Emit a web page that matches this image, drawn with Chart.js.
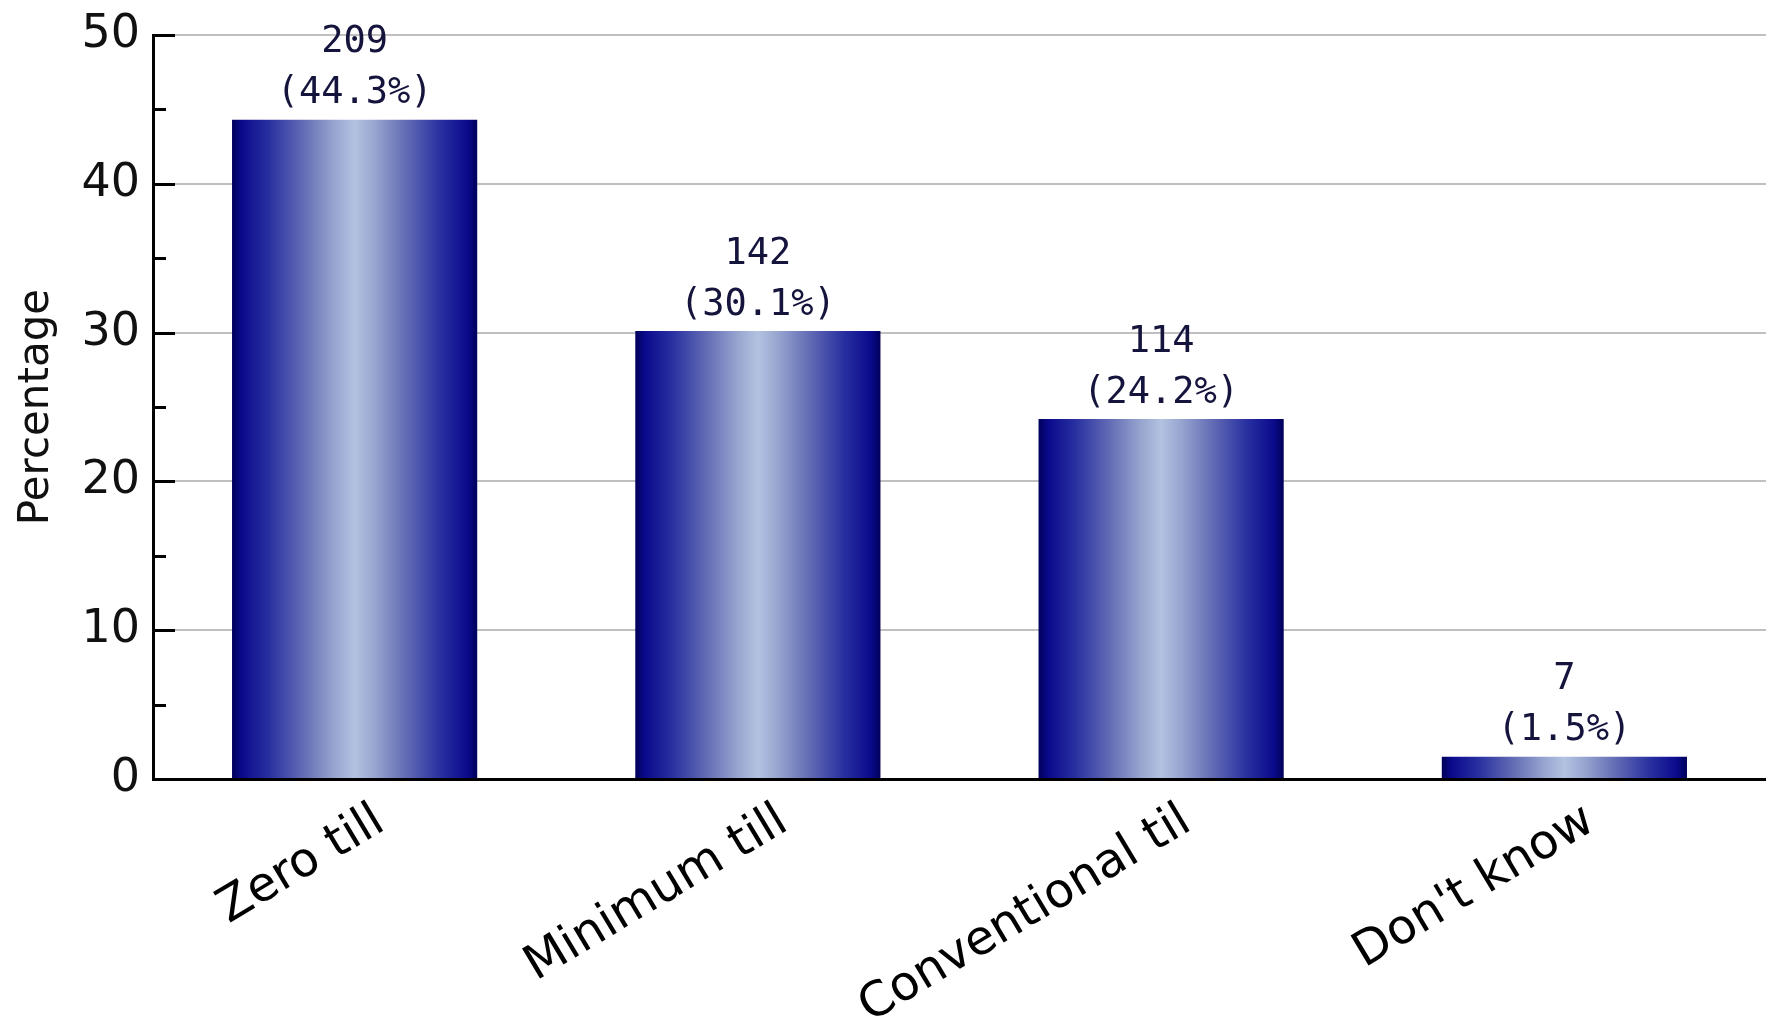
<!DOCTYPE html>
<html>
<head>
<meta charset="utf-8">
<script src="https://cdn.jsdelivr.net/npm/chart.js"></script>
<style>
  html, body { margin: 0; padding: 0; background: #fff; }
  #wrap { width: 1766px; height: 1028px; position: relative; }
</style>
</head>
<body>
<div id="wrap"><canvas id="myChart"></canvas></div>
<script>
const categories = ['Zero till', 'Minimum till', 'Conventional til', "Don't know"];
const counts = [209, 142, 114, 7];
const percents = [44.3, 30.1, 24.2, 1.5];
const majorTicks = [0, 10, 20, 30, 40, 50];

const barPct = 0.608;

// horizontal shading across each bar, dark edges and a pale middle
function barFill(context) {
  const chart = context.chart;
  const xs = chart.scales.x;
  if (!chart.chartArea || !xs) return '#10108a';
  const cx = xs.getPixelForValue(context.dataIndex);
  const half = (xs.width / categories.length) * barPct / 2;
  const g = chart.ctx.createLinearGradient(cx - half, 0, cx + half, 0);
  g.addColorStop(0, '#00005a');
  g.addColorStop(0.04, '#0a0a8c');
  g.addColorStop(0.15, '#2830a0');
  g.addColorStop(0.3, '#6670b6');
  g.addColorStop(0.42, '#98a6d0');
  g.addColorStop(0.5, '#b2c2e0');
  g.addColorStop(0.58, '#98a6d0');
  g.addColorStop(0.7, '#6670b6');
  g.addColorStop(0.85, '#2830a0');
  g.addColorStop(0.96, '#0a0a8c');
  g.addColorStop(1, '#00005a');
  return g;
}

// short tick marks drawn inside the plot, next to the y axis
const innerTicks = {
  id: 'innerTicks',
  afterDatasetsDraw(chart) {
    const { ctx, chartArea } = chart;
    const ys = chart.scales.y;
    ctx.save();
    ctx.strokeStyle = '#000';
    ctx.lineWidth = 3;
    ys.ticks.forEach(t => {
      if (t.value === 0) return;
      const y = Math.round(ys.getPixelForValue(t.value)) + 0.5;
      const len = majorTicks.includes(t.value) ? 22 : 13;
      ctx.beginPath();
      ctx.moveTo(chartArea.left, y);
      ctx.lineTo(chartArea.left + len, y);
      ctx.stroke();
    });
    ctx.restore();
  }
};

// count and percentage written above every bar
const barLabels = {
  id: 'barLabels',
  afterDatasetsDraw(chart) {
    const { ctx } = chart;
    const meta = chart.getDatasetMeta(0);
    ctx.save();
    ctx.font = '37px "DejaVu Sans Mono"';
    ctx.fillStyle = '#14143c';
    ctx.textAlign = 'center';
    ctx.textBaseline = 'middle';
    meta.data.forEach((bar, i) => {
      ctx.fillText(String(counts[i]), bar.x, bar.y - 77);
      ctx.fillText('(' + percents[i].toFixed(1) + '%)', bar.x, bar.y - 26);
    });
    ctx.restore();
  }
};

const ctx = document.getElementById('myChart');

new Chart(ctx, {
  type: 'bar',
  data: {
    labels: categories,
    datasets: [{
      data: percents,
      backgroundColor: barFill,
      borderWidth: 0,
      barPercentage: barPct,
      categoryPercentage: 1
    }]
  },
  options: {
    responsive: true,
    maintainAspectRatio: false,
    animation: false,
    layout: { padding: { top: 35, right: 0, left: 0, bottom: 0 } },
    plugins: {
      legend: { display: false },
      tooltip: { enabled: false }
    },
    scales: {
      x: {
        grid: { display: false, drawTicks: false },
        border: { display: true, color: '#000', width: 3 },
        ticks: {
          color: '#000',
          font: { family: 'DejaVu Sans', size: 48 },
          minRotation: 31,
          maxRotation: 31,
          padding: 14,
          labelOffset: 26,
          autoSkip: false
        },
        afterFit(scale) {
          scale.height = 249;
          scale.paddingLeft = 0;
          scale.paddingRight = 0;
        }
      },
      y: {
        min: 0,
        max: 50,
        ticks: {
          stepSize: 5,
          color: '#111',
          padding: 13,
          font: { family: 'DejaVu Sans', size: 46 },
          callback: v => (majorTicks.includes(v) ? v : '')
        },
        grid: {
          drawTicks: false,
          tickLength: 0,
          lineWidth: 2,
          color: c => (c.tick && c.tick.value % 10 === 0 && c.tick.value !== 0 ? '#c0c0c0' : 'rgba(0,0,0,0)')
        },
        border: { display: true, color: '#000', width: 3 },
        title: {
          display: true,
          text: 'Percentage',
          color: '#111',
          font: { family: 'DejaVu Sans', size: 42 },
          padding: { top: 12, bottom: 0 }
        },
        afterFit(scale) {
          scale.width = 153;
          scale.paddingTop = 0;
          scale.paddingBottom = 0;
        }
      }
    }
  },
  plugins: [innerTicks, barLabels]
});
</script>
</body>
</html>
